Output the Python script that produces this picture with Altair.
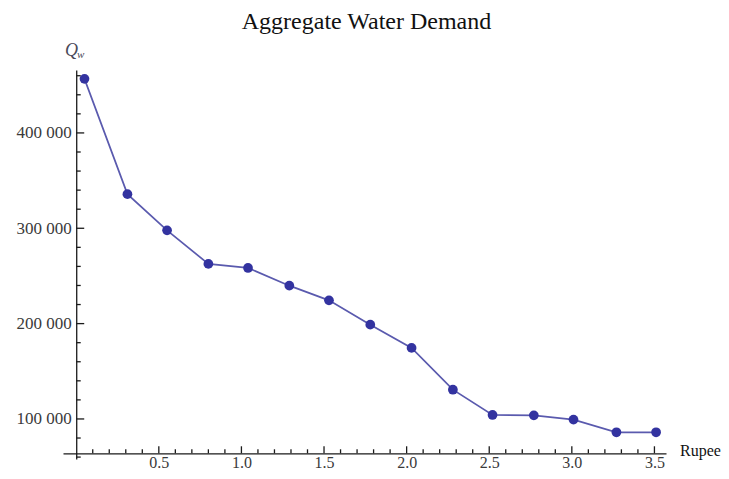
import altair as alt
import pandas as pd

# data
price = [0.05, 0.31, 0.55, 0.80, 1.04, 1.29, 1.53, 1.78, 2.03, 2.28, 2.52, 2.77, 3.01, 3.27, 3.51]
demand = [456700, 335800, 297800, 262600, 258400, 239800, 224400, 198900, 174500,
          130700, 104200, 103800, 99300, 86000, 86000]

x_major = [0.5, 1.0, 1.5, 2.0, 2.5, 3.0, 3.5]
x_minor = [0.1, 0.2, 0.3, 0.4, 0.6, 0.7, 0.8, 0.9, 1.1, 1.2, 1.3, 1.4, 1.6, 1.7, 1.8, 1.9,
           2.1, 2.2, 2.3, 2.4, 2.6, 2.7, 2.8, 2.9, 3.1, 3.2, 3.3, 3.4]
y_major = [100000, 200000, 300000, 400000]
y_minor = [60000, 80000, 120000, 140000, 160000, 180000, 220000, 240000, 260000, 280000,
           320000, 340000, 360000, 380000, 420000, 440000, 460000]

x_domain = [-0.08, 3.57]
y_domain = [58000, 466000]
axis_cross_x = 0.0      # y axis sits at x = 0
axis_cross_y = 64000    # x axis sits at this demand value

W, H = 603, 389
x_off = -(axis_cross_x - x_domain[0]) / (x_domain[1] - x_domain[0]) * W
y_off = -(axis_cross_y - y_domain[0]) / (y_domain[1] - y_domain[0]) * H

df = pd.DataFrame({"price": price, "demand": demand})
xs = alt.Scale(domain=x_domain, nice=False, zero=False)
ys = alt.Scale(domain=y_domain, nice=False, zero=False)

SERIF = "Liberation Serif"
LABEL_COLOR = "#3a3a3a"
AXIS_COLOR = "#1a1a1a"

base = alt.Chart(df)

line = base.mark_line(color="#5a5aae", strokeWidth=1.7).encode(
    x=alt.X("price:Q", scale=xs,
            axis=alt.Axis(values=x_major, format=".1f", offset=y_off, domain=True,
                          domainColor=AXIS_COLOR, domainWidth=1.3, ticks=False, tickSize=0,
                          grid=False, title=None, labelFont=SERIF, labelFontSize=16,
                          labelColor=LABEL_COLOR, labelPadding=1.5)),
    y=alt.Y("demand:Q", scale=ys,
            axis=alt.Axis(values=y_major, offset=x_off, domain=True,
                          domainColor=AXIS_COLOR, domainWidth=1.3, ticks=False, tickSize=0,
                          grid=False, title=None, labelFont=SERIF, labelFontSize=17,
                          labelColor=LABEL_COLOR, labelPadding=5,
                          labelExpr="replace(format(datum.value, ','), ',', ' ')")),
)

points = base.mark_circle(color="#3333a0", opacity=1, size=95).encode(
    x=alt.X("price:Q", scale=xs), y=alt.Y("demand:Q", scale=ys)
)

def xticks(vals, size):
    d = pd.DataFrame({"v": vals, "c": [axis_cross_y] * len(vals)})
    return alt.Chart(d).mark_tick(orient="vertical", size=size, thickness=1.3,
                                  color=AXIS_COLOR, opacity=1, yOffset=-size / 2).encode(
        x=alt.X("v:Q", scale=xs), y=alt.Y("c:Q", scale=ys))

def yticks(vals, size):
    d = pd.DataFrame({"v": vals, "c": [axis_cross_x] * len(vals)})
    return alt.Chart(d).mark_tick(orient="horizontal", size=size, thickness=1.3,
                                  color=AXIS_COLOR, opacity=1, xOffset=size / 2).encode(
        y=alt.Y("v:Q", scale=ys), x=alt.X("c:Q", scale=xs))

def label(txt, **kw):
    return alt.Chart(pd.DataFrame({"t": [txt]})).mark_text(
        font=SERIF, align=kw.pop("align", "left"), baseline="alphabetic", **kw
    ).encode(text="t:N")

title = label("Aggregate Water Demand", fontSize=24, color="#111", align="center").encode(
    x=alt.value(W / 2 + 2), y=alt.value(-41))
q_label = label("Q", fontSize=18, fontStyle="italic", color="#4a4a5a").encode(
    x=alt.value(2), y=alt.value(-14))
w_label = label("w", fontSize=11, fontStyle="italic", color="#4a4a5a").encode(
    x=alt.value(14), y=alt.value(-12))
rupee = label("Rupee", fontSize=16, color="#111").encode(
    x=alt.value(617), y=alt.value(386))

chart = alt.layer(
    line, points,
    xticks(x_major, 7), xticks(x_minor, 4),
    yticks(y_major, 8), yticks(y_minor, 4.5),
    title, q_label, w_label, rupee,
).properties(
    width=W, height=H,
    padding={"left": 55, "top": 62, "right": 55, "bottom": 12},
    autosize="none",
    background="white",
).configure_view(strokeWidth=0, stroke=None)

chart.save("out.html", embed_options={"renderer": "svg", "actions": False})
